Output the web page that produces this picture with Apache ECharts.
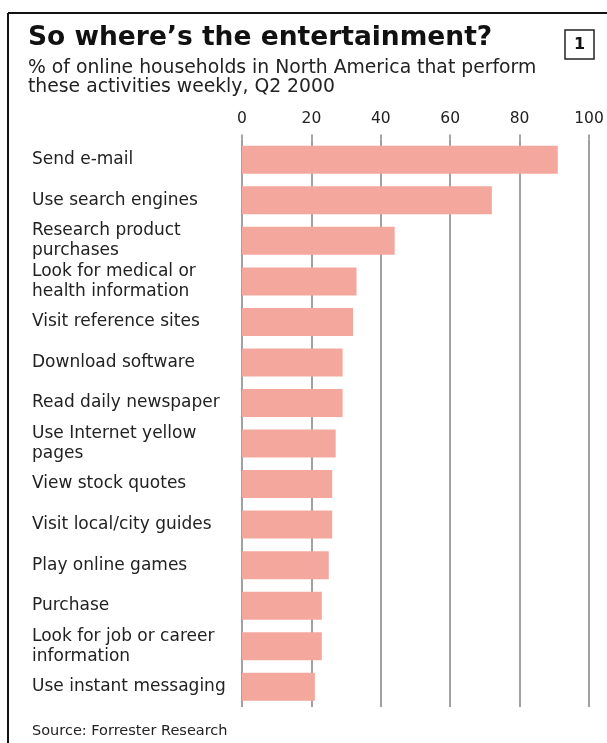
<!DOCTYPE html>
<html>
<head>
<meta charset="utf-8">
<script src="https://cdn.jsdelivr.net/npm/echarts@6/dist/echarts.min.js"></script>
<style>
  html, body { margin: 0; padding: 0; background: #fff; }
  #chart { width: 607px; height: 743px; }
</style>
</head>
<body>
<div id="chart"></div>
<script>
// 活动名称（从上到下）
var activities = [
  "Send e-mail",
  "Use search engines",
  "Research product\npurchases",
  "Look for medical or\nhealth information",
  "Visit reference sites",
  "Download software",
  "Read daily newspaper",
  "Use Internet yellow\npages",
  "View stock quotes",
  "Visit local/city guides",
  "Play online games",
  "Purchase",
  "Look for job or career\ninformation",
  "Use instant messaging"
];
// 每周进行该活动的在线家庭百分比
var percents = [91, 72, 44, 33, 32, 29, 29, 27, 26, 26, 25, 23, 23, 21];
// X轴刻度
var tickValues = [0, 20, 40, 60, 80, 100];

var FONT = "'DejaVu Sans', 'Open Sans', sans-serif";

var myChart = echarts.init(document.getElementById("chart"), null, { renderer: "canvas" });

var option = {
  backgroundColor: "#fff",
  animation: false,
  title: {
    text: "So where\u2019s the entertainment?",
    subtext: "% of online households in North America that perform\nthese activities weekly, Q2 2000",
    left: 28,
    top: 25,
    itemGap: 7,
    padding: 0,
    textStyle: { fontFamily: FONT, fontSize: 26.5, fontWeight: "bold", color: "#111" },
    subtextStyle: { fontFamily: FONT, fontSize: 18.8, color: "#222", lineHeight: 19 }
  },
  grid: {
    left: 242,
    right: 18,
    top: 139.5,
    height: 567.5,
    containLabel: false
  },
  xAxis: {
    type: "value",
    position: "top",
    min: tickValues[0],
    max: tickValues[tickValues.length - 1],
    interval: 20,
    axisLine: { show: false },
    axisTick: { show: true, length: 5, lineStyle: { color: "#888", width: 1.5 } },
    axisLabel: { margin: 13, fontFamily: FONT, fontSize: 15.5, color: "#222" },
    splitLine: { show: true, lineStyle: { color: "#8a8a8a", width: 1.6 } }
  },
  yAxis: {
    type: "category",
    inverse: true,
    data: activities,
    axisLine: { show: false },
    axisTick: { show: false },
    axisLabel: {
      align: "left",
      margin: 210,
      fontFamily: FONT,
      fontSize: 17,
      lineHeight: 20,
      padding: [7, 0, 0, 0],
      color: "#222"
    }
  },
  series: [
    {
      type: "bar",
      data: percents,
      barWidth: 28,
      itemStyle: { color: "#f4a79c" },
      silent: true
    }
  ],
  graphic: [
    // 外框（只露出上边和左边）
    { type: "line", shape: { x1: 8, y1: 13, x2: 607, y2: 13 }, style: { stroke: "#111", lineWidth: 2 } },
    { type: "line", shape: { x1: 8, y1: 13, x2: 8, y2: 743 }, style: { stroke: "#111", lineWidth: 2 } },
    // 图号
    { type: "rect", shape: { x: 565, y: 30, width: 29, height: 29 }, style: { fill: "#fff", stroke: "#222", lineWidth: 1.5 } },
    {
      type: "text",
      x: 579.5, y: 45,
      style: { text: "1", font: "bold 16px " + FONT, fill: "#111", textAlign: "center", textVerticalAlign: "middle" }
    },
    // 数据来源
    {
      type: "text",
      x: 32, y: 731,
      style: { text: "Source: Forrester Research", font: "14.5px " + FONT, fill: "#222", textVerticalAlign: "middle" }
    }
  ]
};

myChart.setOption(option);
</script>
</body>
</html>
